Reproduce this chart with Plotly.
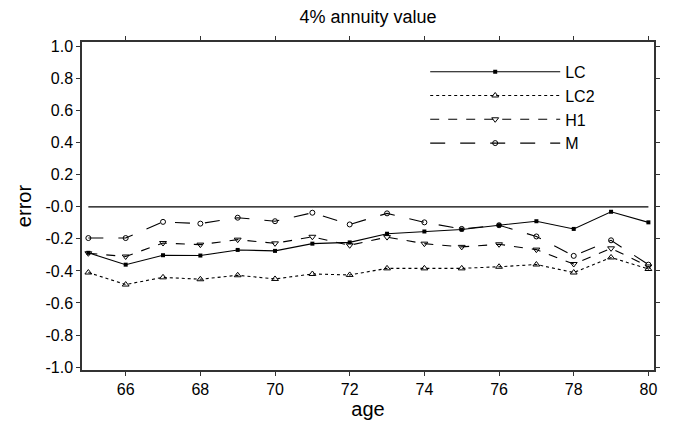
import plotly.graph_objects as go

ages = list(range(65, 81))
lc = [-0.287, -0.361, -0.302, -0.304, -0.269, -0.275, -0.230, -0.222,
      -0.168, -0.154, -0.142, -0.115, -0.090, -0.138, -0.031, -0.097]
lc2 = [-0.410, -0.485, -0.440, -0.452, -0.427, -0.450, -0.419, -0.425,
       -0.384, -0.384, -0.384, -0.374, -0.360, -0.410, -0.316, -0.388]
h1 = [-0.290, -0.310, -0.226, -0.236, -0.205, -0.228, -0.187, -0.240,
      -0.189, -0.230, -0.250, -0.234, -0.267, -0.357, -0.259, -0.372]
m = [-0.195, -0.195, -0.094, -0.105, -0.068, -0.090, -0.037, -0.110,
     -0.041, -0.097, -0.138, -0.115, -0.185, -0.306, -0.209, -0.361]
ref_x = [65, 80]
ref_y = [0, 0]

x_ticks = [66, 68, 70, 72, 74, 76, 78, 80]
y_ticks = [1.0, 0.8, 0.6, 0.4, 0.2, 0.0, -0.2, -0.4, -0.6, -0.8, -1.0]
y_ticktext = ["1.0", "0.8", "0.6", "0.4", "0.2", "-0.0", "-0.2", "-0.4", "-0.6", "-0.8", "-1.0"]

FONT = "Liberation Sans, Arial, sans-serif"

fig = go.Figure()
fig.add_trace(go.Scatter(x=ref_x, y=ref_y, mode="lines", showlegend=False,
                         line=dict(color="black", width=1.2), hoverinfo="skip"))
fig.add_trace(go.Scatter(x=ages, y=lc, name="LC", mode="lines+markers",
                         line=dict(color="black", width=1.1, dash="solid"),
                         marker=dict(symbol="square", size=4, color="black")))
fig.add_trace(go.Scatter(x=ages, y=lc2, name="LC2", mode="lines+markers",
                         line=dict(color="black", width=1.1, dash="dot"),
                         marker=dict(symbol="triangle-up-open", size=6, color="black",
                                     line=dict(width=1))))
fig.add_trace(go.Scatter(x=ages, y=h1, name="H1", mode="lines+markers",
                         line=dict(color="black", width=1.1, dash="dash"),
                         marker=dict(symbol="triangle-down-open", size=6, color="black",
                                     line=dict(width=1))))
fig.add_trace(go.Scatter(x=ages, y=m, name="M", mode="lines+markers",
                         line=dict(color="black", width=1.1, dash="longdash"),
                         marker=dict(symbol="circle-open", size=5, color="black",
                                     line=dict(width=1))))

fig.update_layout(
    width=673, height=424,
    margin=dict(l=82, r=19, t=42, b=49),
    paper_bgcolor="white", plot_bgcolor="white",
    font=dict(family=FONT, size=16, color="black"),
    title=dict(text="4% annuity value", x=0.5, xref="paper", xanchor="center",
               y=1 - 17 / 424, yanchor="middle", font=dict(size=18)),
    showlegend=True,
    legend=dict(x=0.6, y=0.961, xanchor="left", yanchor="top",
                bgcolor="rgba(0,0,0,0)", font=dict(size=16), itemwidth=130,
                tracegroupgap=0),
    xaxis=dict(range=[64.83, 80.15], tickvals=x_ticks, showgrid=False, zeroline=False,
               showline=True, linecolor="#333", linewidth=1.5, mirror="allticks",
               ticks="outside", ticklen=4, tickcolor="#333",
               title=dict(text="age", font=dict(size=20), standoff=0),
               tickfont=dict(size=16)),
    yaxis=dict(range=[-1.018, 1.028], tickvals=y_ticks, ticktext=y_ticktext,
               showgrid=False, zeroline=False,
               showline=True, linecolor="#333", linewidth=1.5, mirror="allticks",
               ticks="outside", ticklen=4, tickcolor="#333",
               title=dict(text="error", font=dict(size=20), standoff=8),
               tickfont=dict(size=16)),
)

fig.write_html("out.html", config={"displayModeBar": False},
               post_script="document.body.style.margin='0';document.body.style.padding='0';")
